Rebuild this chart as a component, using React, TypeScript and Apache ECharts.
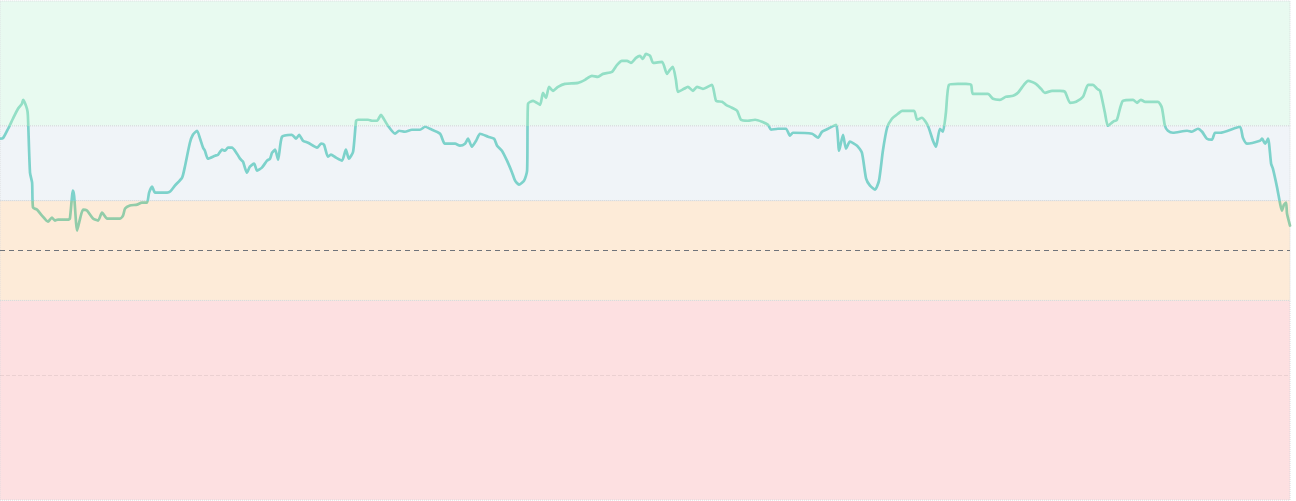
import React, { useEffect, useRef } from "react";
import * as echarts from "echarts";

// sample index of each reading (x axis) and the reading itself (y axis)
const samples = [
  0, 1, 2.7, 4.3, 6, 7.3, 7.7, 9, 9.3, 10,
  10.7, 11, 12.3, 14, 16, 17.3, 18.3, 19.3, 22.7, 23.3,
  24.3, 24.7, 25.7, 26.7, 27.7, 29, 31, 32.7, 34, 35.7,
  36.7, 40, 41, 41.7, 43.3, 45.7, 47.3, 49, 49.7, 50.7,
  51.7, 55.7, 56.7, 58.3, 60.7, 61.7, 63.3, 64.3, 65.7, 66.7,
  67.7, 68.3, 69.3, 71.7, 72.7, 74, 75, 76, 77.3, 79,
  80, 81, 82.3, 83.3, 84.7, 85.7, 87.3, 89, 90, 90.7,
  91.7, 92.7, 94, 97.3, 98.7, 99.7, 101, 102.7, 105.7, 107,
  108, 109.3, 110.3, 112, 114, 115.3, 116.3, 117.7, 118.7, 119.3,
  122.7, 124, 125.7, 127, 127.7, 129.3, 131.7, 133, 135, 137.3,
  140, 141.7, 143.3, 146.7, 148.3, 151.7, 153.3, 155, 156, 157.3,
  158.7, 160, 162.7, 164.7, 165.7, 167.3, 169, 170.7, 171.7, 173,
  174.7, 175.7, 176, 177.7, 180, 181, 182, 183, 184.3, 186,
  188.3, 192.7, 195, 197.3, 199.3, 201, 204, 205.7, 207.3, 209,
  210.3, 212, 213.3, 214.3, 215.3, 216.7, 217.7, 220.7, 222.3, 223.3,
  224.3, 225.3, 226, 228, 229.3, 231, 232.3, 234.3, 237.3, 238.7,
  240.7, 242, 244, 245.7, 247, 249.3, 251.7, 254, 256, 257,
  259.3, 262, 263.3, 264.3, 270.7, 272.7, 274, 276, 278.7, 279.7,
  281, 282, 283.3, 285.7, 287.3, 288.7, 290, 291.7, 293, 294.3,
  295.7, 297.3, 299.3, 300.7, 304.7, 305.7, 307.3, 309.3, 311, 312,
  313.3, 314.3, 315.3, 316.3, 319.3, 322, 323.7, 324.3, 329.3, 331,
  333.3, 335.3, 337.7, 339.3, 341.3, 342.7, 345.3, 347, 348.3, 350.7,
  353.3, 355, 356.7, 358.7, 361, 362.7, 364.3, 365.7, 366.7, 368.3,
  369.3, 371, 372.3, 373.3, 374.3, 377.7, 379, 380.3, 381.7, 386,
  387.3, 388.3, 389.3, 391, 395.7, 397.3, 399.3, 400.7, 402.3, 404,
  405, 406.7, 413.3, 414.3, 415.7, 420, 420.7, 421.7, 422.7, 423.7,
  424.3, 425.7, 426.7, 427.3, 428, 428.7, 429, 430,
];

const readings = [
  72.4, 72.5, 74.4, 76.4, 78.4, 79.4, 80.2, 78.4, 77, 65.6,
  63.6, 58.6, 58.2, 57, 55.8, 56.6, 56, 56.2, 56.2, 56.4,
  62, 61, 54, 56.4, 58.2, 58, 56.4, 56, 57.6, 56.4,
  56.4, 56.4, 57, 58.4, 59, 59.2, 59.6, 59.6, 61.6, 62.8,
  61.6, 61.6, 61.8, 63, 64.6, 67, 71.6, 73.2, 74, 72.4,
  70.6, 70, 68.4, 69, 69.2, 70.2, 70, 70.6, 70.6, 69.4,
  68.4, 67.8, 65.6, 66.8, 67.4, 66, 66.6, 68, 68.4, 69.6,
  70.2, 68.2, 72.8, 73.2, 72.4, 73.2, 72, 71.6, 70.6, 71.4,
  71.2, 68.8, 69.2, 68.6, 68, 70.2, 68.4, 69.8, 76, 76.2,
  76.2, 76, 76, 77.2, 76.6, 75, 73.4, 74, 73.8, 74.2,
  74.2, 74.8, 74.4, 73.4, 71.4, 71.4, 71, 71.4, 72.4, 70.8,
  72, 73.4, 72.8, 72.4, 71, 70, 68, 65.6, 64, 63.2,
  64, 66, 79.4, 80, 79.2, 81.6, 80.6, 82.8, 82, 82.8,
  83.4, 83.6, 84.2, 85, 84.8, 85.4, 85.8, 87.2, 88, 88,
  87.6, 88.6, 89, 88.4, 89.4, 89, 87.6, 87.8, 85.4, 86.2,
  86.8, 84.2, 81.8, 82.4, 82.8, 82, 82.8, 82.4, 83.2, 80,
  79.8, 79.2, 78.6, 78, 76.2, 76, 76.2, 75.8, 75.2, 74.2,
  74.4, 74.4, 73, 73.6, 73.4, 72.6, 73.8, 74.4, 75.2, 70,
  73.2, 70.4, 71.8, 71, 69.6, 64.4, 63, 62.2, 64, 70,
  74.6, 76.4, 77.4, 78, 78, 76.2, 76.6, 75, 72, 70.8,
  74.4, 73.8, 77.6, 83.2, 83.4, 83.4, 83.2, 81.4, 81.4, 80.4,
  80.2, 80.8, 81, 81.6, 83.2, 84, 83.4, 82.4, 81.6, 82,
  82, 81.8, 79.6, 79.8, 80.8, 83.2, 83.2, 82.4, 82, 77.6,
  75, 75.8, 76.2, 78.4, 80, 80.2, 79.6, 80.2, 79.8, 79.8,
  78.6, 75, 74, 73.6, 74, 73.8, 74.4, 73.8, 72.4, 72.2,
  73.6, 73.6, 74.8, 72.6, 71.4, 72, 72.4, 71.4, 72.4, 67.4,
  66.4, 62.6, 59.4, 58, 59.2, 59.6, 57.4, 55,
];

// zones: red 0-40, orange 40-60, grey 60-75, green 75-100
const bandLimits = [0, 40, 60, 75, 100];
const bandColors = ["#fde0e1", "#fdebd8", "#f0f4f8", "#e8faf0"];
const lineColors = ["#d49a9a", "#92cca9", "#7dd2cb", "#93dfc6"];
const targetLevel = 50;
const guideLevel = 25;

const App: React.FC = () => {
  const chartRef = useRef<HTMLDivElement>(null);

  useEffect(() => {
    const chart = echarts.init(chartRef.current, null, { renderer: "svg" });

    const bands = bandColors.map((color, i) => [
      {
        yAxis: bandLimits[i],
        itemStyle: {
          color,
          borderColor: "#d6d9dc",
          borderWidth: 1,
          borderType: "dotted",
        },
      },
      { yAxis: bandLimits[i + 1] },
    ]);

    const pieces = lineColors.map((color, i) => ({
      gte: bandLimits[i],
      lt: i === lineColors.length - 1 ? 1000 : bandLimits[i + 1],
      color,
    }));

    const points = samples.map((s, i) => [s, readings[i]]);

    const option: echarts.EChartsOption = {
      animation: false,
      grid: { left: -2, right: 6, top: 1, bottom: 1 },
      xAxis: {
        type: "value",
        min: 0,
        max: 430,
        axisLine: { show: false },
        axisTick: { show: false },
        axisLabel: { show: false },
        splitLine: { show: false },
      },
      yAxis: {
        type: "value",
        min: 0,
        max: 100,
        interval: 25,
        axisLine: { show: false },
        axisTick: { show: false },
        axisLabel: { show: false },
        splitLine: { show: false },
      },
      visualMap: {
        show: false,
        type: "piecewise",
        seriesIndex: 1,
        dimension: 1,
        pieces,
      },
      series: [
        {
          // zone bands + reference lines
          type: "line",
          z: 1,
          data: points,
          symbol: "none",
          lineStyle: { opacity: 0 },
          silent: true,
          markArea: { silent: true, data: bands as any },
          markLine: {
            silent: true,
            symbol: "none",
            label: { show: false },
            data: [
              {
                yAxis: guideLevel,
                lineStyle: { color: "rgba(0,0,0,0.07)", type: "dashed", width: 1 },
              },
              {
                yAxis: targetLevel,
                lineStyle: { color: "#6f737a", type: [5, 4], width: 1 },
              },
            ],
          },
        },
        {
          type: "line",
          z: 3,
          data: points,
          symbol: "none",
          smooth: 0.2,
          lineStyle: { width: 2.7, join: "round", cap: "round" },
        },
      ],
    };

    chart.setOption(option);
    return () => chart.dispose();
  }, []);

  return (
    <div
      ref={chartRef}
      style={{ position: "fixed", left: 0, top: 0, width: "100vw", height: "100vh" }}
    />
  );
};

export default App;
